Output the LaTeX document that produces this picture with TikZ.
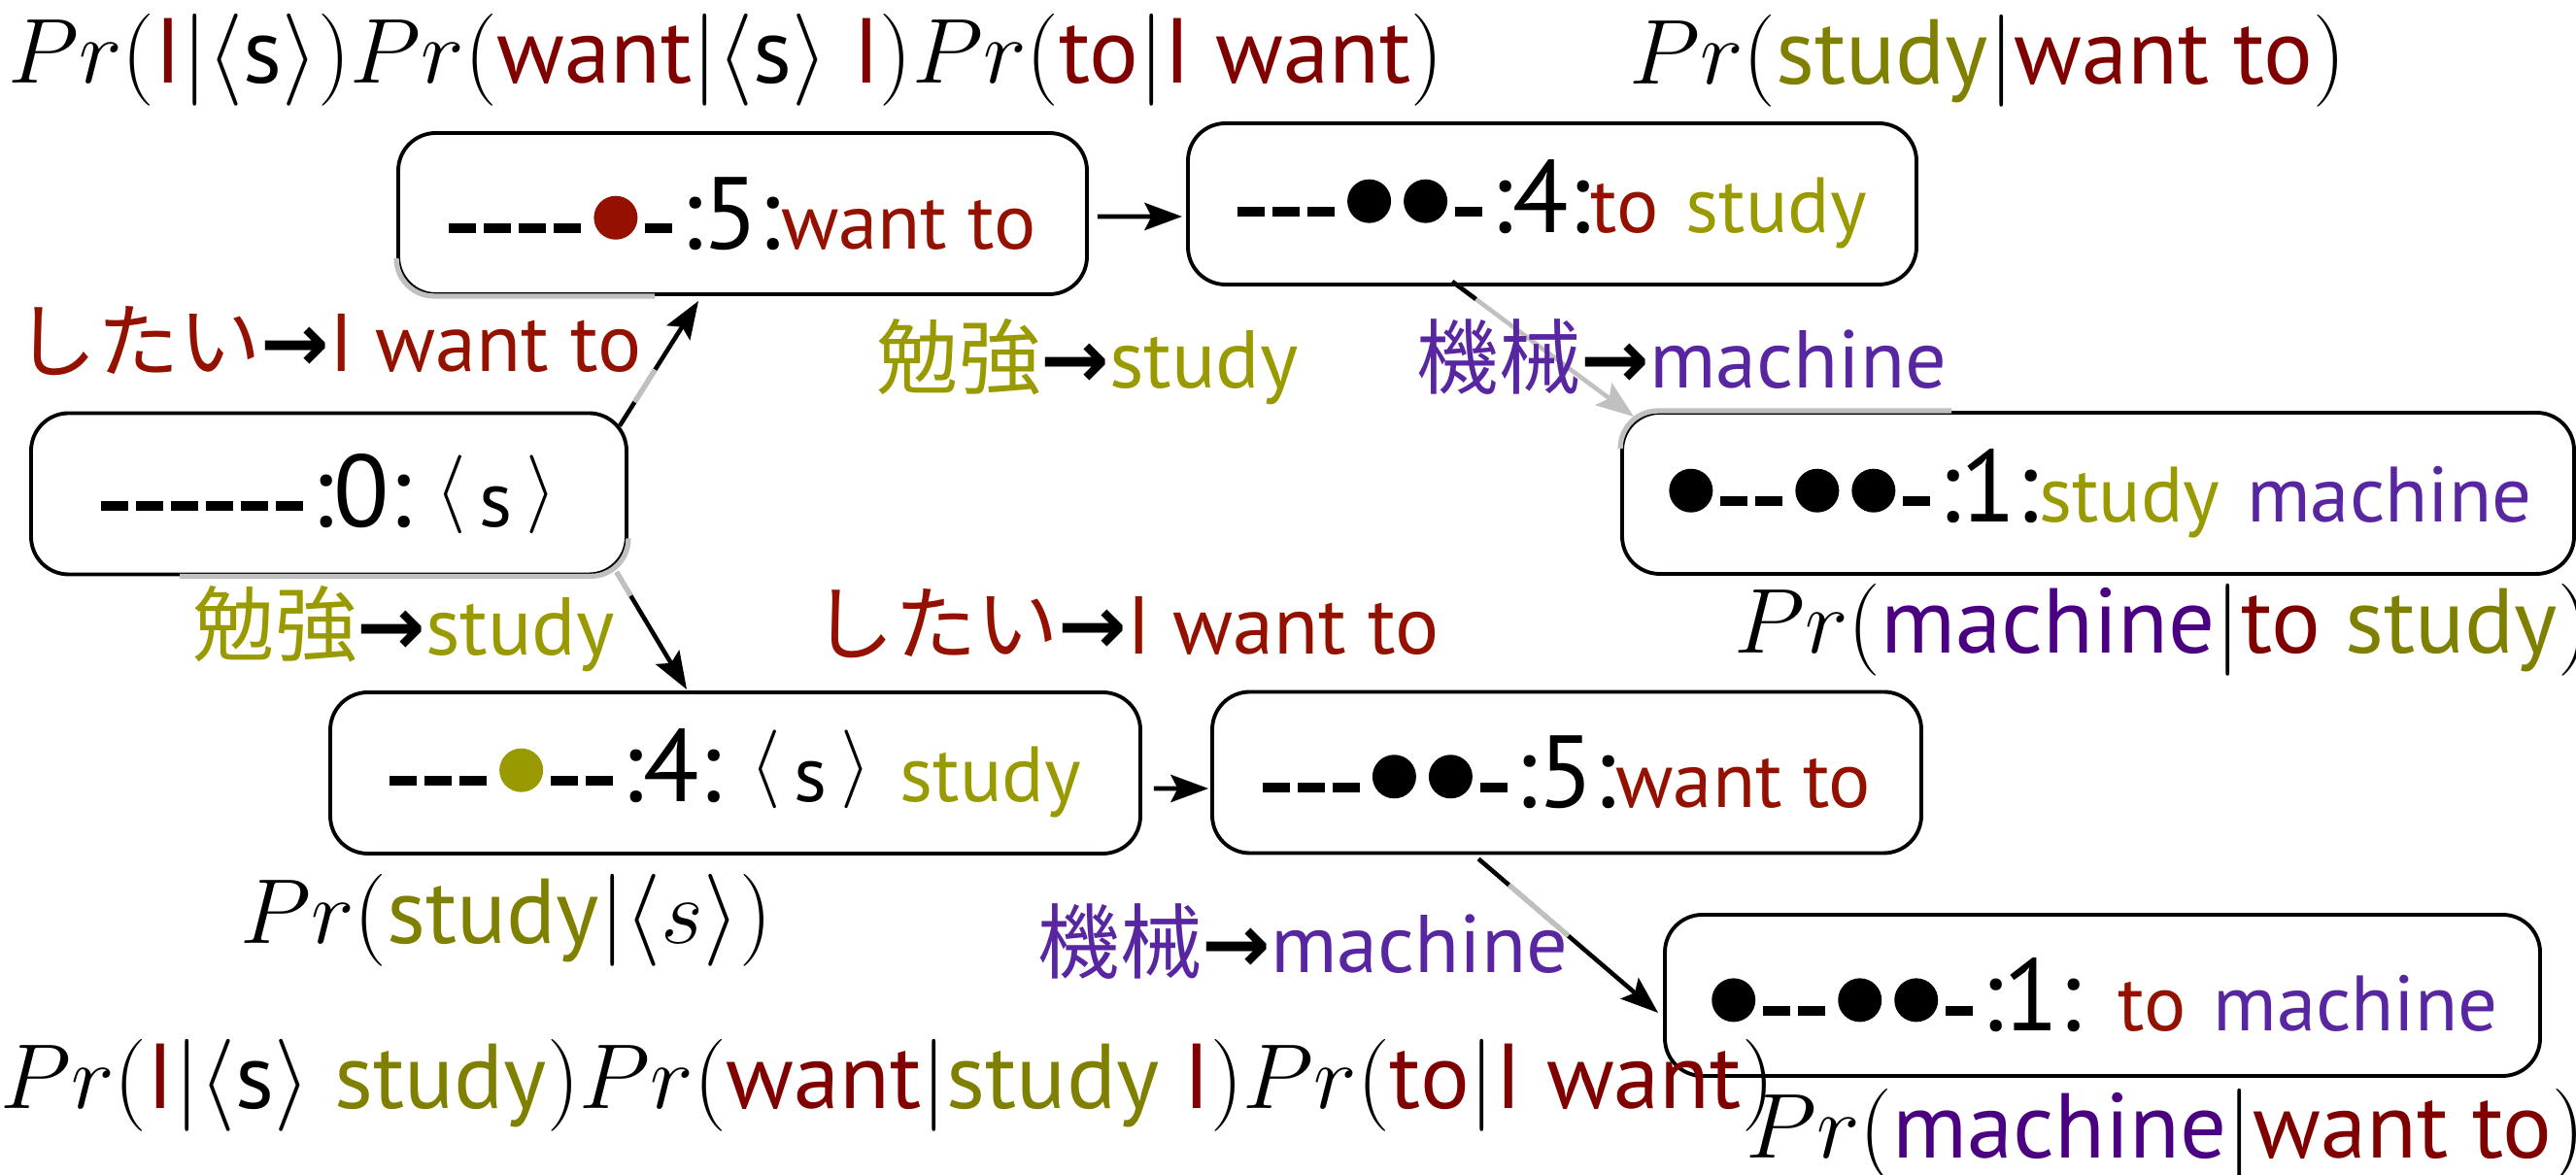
\RequirePackage{fix-cm}
\documentclass[tikz,border=0pt]{standalone}
\usepackage{fontspec}
\setsansfont{PT Sans}
\newfontfamily\jpfont{Noto Sans CJK JP}
\newfontfamily\arrfont{DejaVu Sans}
\usetikzlibrary{arrows.meta,calc,positioning}
\definecolor{hred}{RGB}{148,17,0}
\definecolor{holive}{RGB}{153,153,0}
\definecolor{hpurple}{RGB}{88,38,160}
\definecolor{pred}{RGB}{128,0,0}
\definecolor{polive}{RGB}{128,128,0}
\definecolor{ppurple}{RGB}{75,0,130}
\definecolor{faded}{RGB}{192,192,192}
\tikzset{
  hyp box/.style={draw, line width=1.1pt, rounded corners=11pt,
    minimum height=1.66cm, inner sep=0pt,
    font=\sffamily\fontsize{30}{34}\selectfont},
  trans label/.style={anchor=base west, inner sep=0pt,
    font=\sffamily\fontsize{24}{28}\selectfont},
  prob label/.style={anchor=base west, inner sep=0pt,
    font=\sffamily\fontsize{27}{30}\selectfont},
  hyp arrow/.style={line width=1.3pt, -{Stealth[length=11pt,width=8pt,inset=2pt]}},
  faded line/.style={draw=faded, line width=1.5pt},
}
% coverage marks
\newcommand{\dsh}{\rule[.16cm]{.28cm}{.1cm}\hspace{.08cm}}
\newcommand{\bul}[1]{\hspace{.05cm}\tikz[baseline=0pt]\fill[#1] (0,.32) circle (.225);\hspace{.08cm}}
\newcommand{\wrd}[2]{{\fontsize{23}{26}\selectfont\color{#1}#2}}
\newcommand{\bos}{\raisebox{.13cm}{$\langle\,$}s\raisebox{.13cm}{$\,\rangle$}}
\newcommand{\arr}{{\arrfont\bfseries →}}
\newcommand{\pw}[2]{\textcolor{#1}{\textsf{#2}}}

\begin{document}
\begin{tikzpicture}
\useasboundingbox (0,0) rectangle (26.52,12.10);

% hypotheses
\node[hyp box, minimum width=6.13cm] (bos) at (3.385,7.015)
  {\dsh\dsh\dsh\dsh\dsh\dsh:0:\hspace{.25cm}\wrd{black}{\bos}};
\node[hyp box, minimum width=7.09cm] (want) at (7.645,9.90)
  {\dsh\dsh\dsh\dsh\bul{hred}\dsh:5:\wrd{hred}{want to}};
\node[hyp box, minimum width=7.50cm] (wantstudy) at (15.98,10.00)
  {\dsh\dsh\dsh\bul{black}\bul{black}\dsh:4:\wrd{hred}{to} \wrd{holive}{study}};
\node[hyp box, minimum width=9.80cm] (wantmach) at (21.60,7.02)
  {\bul{black}\dsh\dsh\bul{black}\bul{black}\dsh:1:\wrd{holive}{study} \wrd{hpurple}{machine}};
\node[hyp box, minimum width=8.34cm] (study) at (7.57,4.14)
  {\dsh\dsh\dsh\bul{holive}\dsh\dsh:4:\hspace{.3cm}\wrd{black}{\bos}\hspace{.3cm}\wrd{holive}{study}};
\node[hyp box, minimum width=7.30cm] (studywant) at (16.13,4.145)
  {\dsh\dsh\dsh\bul{black}\bul{black}\dsh:5:\wrd{hred}{want to}};
\node[hyp box, minimum width=9.01cm] (studymach) at (21.645,1.85)
  {\bul{black}\dsh\dsh\bul{black}\bul{black}\dsh:1: \wrd{hred}{to} \wrd{hpurple}{machine}};

% faded border parts
\draw[faded line, rounded corners=11pt] ([yshift=.39cm]want.south west) -- (want.south west) -- ([xshift=2.66cm]want.south west);
\draw[faded line, rounded corners=11pt] ([xshift=1.55cm]bos.south west) -- (bos.south east) -- ([yshift=.39cm]bos.south east);
\draw[faded line, rounded corners=11pt] ([yshift=-.39cm]wantmach.north west) -- (wantmach.north west) -- ([xshift=3.41cm]wantmach.north west);

% expansions
\coordinate (bos-up) at ([xshift=-.09cm,yshift=-.15cm]bos.north east);
\coordinate (want-in) at ([xshift=3.11cm,yshift=-.05cm]want.south west);
\draw[hyp arrow] (bos-up) -- (want-in);
\draw[faded line] ($(bos-up)!.19!(want-in)$) -- ($(bos-up)!.45!(want-in)$);

\coordinate (bos-down) at ([xshift=-.12cm,yshift=.04cm]bos.south east);
\coordinate (study-in) at ([xshift=3.69cm,yshift=.01cm]study.north west);
\draw[hyp arrow] (bos-down) -- (study-in);
\draw[faded line] (bos-down) -- ($(bos-down)!.2!(study-in)$);

\coordinate (ws-out) at ([xshift=2.74cm,yshift=.05cm]wantstudy.south west);
\coordinate (wm-in) at ([xshift=.14cm,yshift=-.06cm]wantmach.north west);
\draw[hyp arrow, faded] (ws-out) -- (wm-in);
\draw[line width=1.3pt] (ws-out) -- ($(ws-out)!.13!(wm-in)$);

\coordinate (sw-out) at ([xshift=2.76cm,yshift=-.04cm]studywant.south west);
\coordinate (sm-in) at ([xshift=-.05cm,yshift=-.18cm]studymach.west);
\draw[hyp arrow] (sw-out) -- (sm-in);
\draw[faded line] ($(sw-out)!.17!(sm-in)$) -- ($(sw-out)!.5!(sm-in)$);

\draw[hyp arrow] ([xshift=.09cm,yshift=-.03cm]want.east) -- ([xshift=-.04cm,yshift=-.13cm]wantstudy.west);
\draw[hyp arrow] ([xshift=.12cm,yshift=-.16cm]study.east) -- ([xshift=-.02cm,yshift=-.165cm]studywant.west);

% phrase pairs
\node[trans label] (t-want) at (0.15,8.27)
  {\textcolor{hred}{\jpfont したい}\arr\textcolor{hred}{I want to}};
\node[trans label] (t-study) at (9.02,8.10)
  {\textcolor{holive}{\jpfont 勉強}\arr\textcolor{holive}{study}};
\node[trans label] (t-mach) at (14.58,8.10)
  {\textcolor{hpurple}{\jpfont 機械}\arr\textcolor{hpurple}{machine}};
\node[trans label] (t-study2) at (1.98,5.35)
  {\textcolor{holive}{\jpfont 勉強}\arr\textcolor{holive}{study}};
\node[trans label] (t-want2) at (8.36,5.36)
  {\textcolor{hred}{\jpfont したい}\arr\textcolor{hred}{I want to}};
\node[trans label] (t-mach2) at (10.68,2.08)
  {\textcolor{hpurple}{\jpfont 機械}\arr\textcolor{hpurple}{machine}};

% language model scores
\node[prob label] (p-want) at (0.08,11.24)
  {$Pr(\pw{pred}{I}|\langle\textsf{s}\rangle)Pr(\pw{pred}{want}|\langle\textsf{s}\rangle\ \pw{pred}{I})Pr(\pw{pred}{to}|\pw{pred}{I want})$};
\node[prob label] (p-wantstudy) at (16.77,11.23)
  {$Pr(\pw{polive}{study}|\pw{pred}{want to})$};
\node[prob label] (p-wantmach) at (17.85,5.37)
  {$Pr(\pw{ppurple}{machine}|\pw{pred}{to}\ \pw{polive}{study})$};
\node[prob label] (p-study) at (2.47,2.38)
  {$Pr(\pw{polive}{study}|\langle s\rangle)$};
\node[prob label] (p-studywant) at (0.0,0.68)
  {$Pr(\pw{pred}{I}|\langle\textsf{s}\rangle\ \pw{polive}{study})Pr(\pw{pred}{want}|\pw{polive}{study}\ \pw{pred}{I})Pr(\pw{pred}{to}|\pw{pred}{I want})$};
\node[prob label] (p-studymach) at (17.97,0.17)
  {$Pr(\pw{ppurple}{machine}|\pw{pred}{want to})$};
\end{tikzpicture}
\end{document}
